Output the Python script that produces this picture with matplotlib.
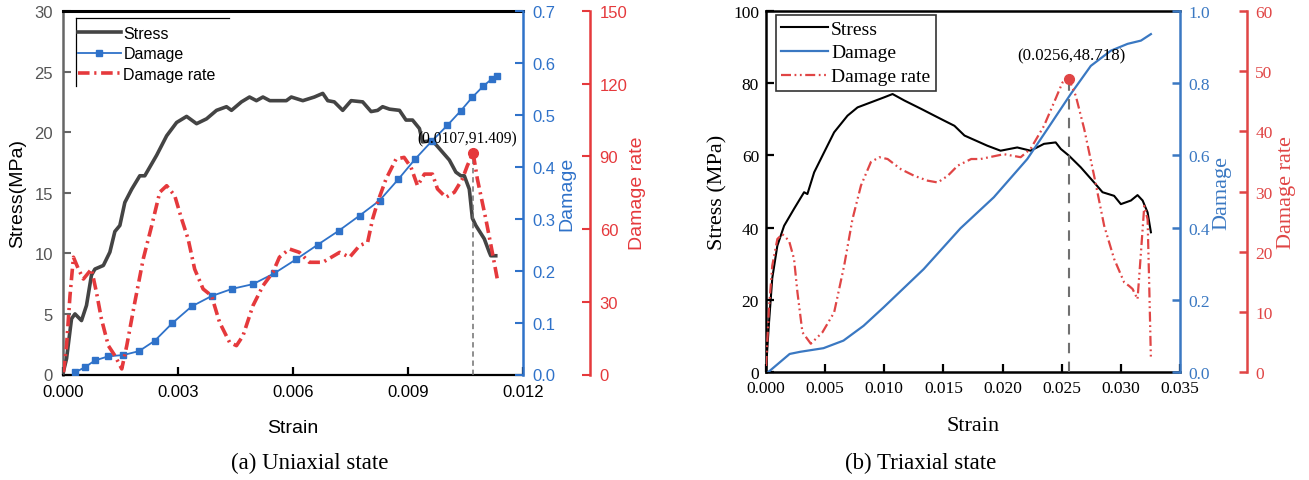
import matplotlib
matplotlib.use("Agg")
import matplotlib.pyplot as plt
from matplotlib.lines import Line2D

# ---------------- data: (a) uniaxial ----------------
ua_stress_strain = [0, 0.0001, 0.00023, 0.00032, 0.00049, 0.00062, 0.00075, 0.00084, 0.00106, 0.00123,
                    0.00136, 0.00149, 0.00162, 0.0018, 0.00201, 0.00214, 0.00245, 0.00271, 0.00297, 0.00323,
                    0.00349, 0.00375, 0.00401, 0.00427, 0.0044, 0.00466, 0.00487, 0.00505, 0.00522, 0.0054,
                    0.00583, 0.00596, 0.00626, 0.00656, 0.00678, 0.00691, 0.00708, 0.0073, 0.00752, 0.00782,
                    0.00804, 0.00821, 0.00834, 0.00852, 0.00878, 0.00895, 0.00912, 0.0093, 0.00938, 0.00964,
                    0.00986, 0.01008, 0.01025, 0.01038, 0.01047, 0.0106, 0.01068, 0.01077, 0.01099, 0.01112,
                    0.01116, 0.01129]
ua_stress = [0, 1.3, 4.6, 5.0, 4.45, 5.7, 8.2, 8.7, 9.0, 10.1,
             11.8, 12.3, 14.2, 15.3, 16.4, 16.4, 18.1, 19.7, 20.8, 21.3,
             20.7, 21.1, 21.8, 22.1, 21.8, 22.5, 22.9, 22.6, 22.9, 22.6,
             22.6, 22.9, 22.6, 22.9, 23.2, 22.6, 22.5, 21.8, 22.6, 22.5,
             21.7, 21.8, 22.1, 21.9, 21.8, 21.0, 21.0, 20.3, 19.2, 19.3,
             18.5, 17.7, 16.7, 16.4, 16.4, 15.3, 12.9, 12.3, 11.2, 10.1,
             9.8, 9.8]

ua_damage_strain = [0.00032, 0.00058, 0.00084, 0.00119, 0.00158, 0.00199, 0.0024, 0.00286, 0.00336, 0.00388,
                    0.00442, 0.00496, 0.00552, 0.00609, 0.00665, 0.0072, 0.00774, 0.00826, 0.00875, 0.00919,
                    0.00963, 0.01003, 0.01038, 0.01068, 0.01096, 0.0112, 0.01133]
ua_damage = [0.004, 0.014, 0.027, 0.035, 0.0375, 0.045, 0.065, 0.099, 0.131, 0.151,
             0.165, 0.174, 0.195, 0.222, 0.25, 0.277, 0.306, 0.335, 0.376, 0.415,
             0.45, 0.48, 0.508, 0.534, 0.555, 0.570, 0.575]

ua_rate_strain = [0.00002, 0.0001, 0.00019, 0.00028, 0.00041, 0.00054, 0.00075, 0.00088, 0.00101, 0.00119,
                  0.00136, 0.00154, 0.00167, 0.00188, 0.0021, 0.00232, 0.00253, 0.00271, 0.00292, 0.0031,
                  0.00327, 0.00344, 0.00366, 0.00388, 0.00409, 0.00435, 0.00453, 0.0047, 0.00496, 0.00522,
                  0.00548, 0.00565, 0.00591, 0.00617, 0.00643, 0.00678, 0.00722, 0.00748, 0.00774, 0.00795,
                  0.00808, 0.00821, 0.00843, 0.00869, 0.0089, 0.00908, 0.00925, 0.00943, 0.00964, 0.00977,
                  0.00999, 0.01021, 0.01042, 0.01055, 0.0107, 0.01081, 0.01103, 0.0112, 0.01133]
ua_rate = [0.9, 11.9, 32.5, 48.4, 43.5, 39.4, 43.5, 33.9, 22.9, 11.9,
           7.8, 2.3, 11.9, 29.8, 47.7, 61.4, 75.2, 77.9, 73.8, 64.2,
           55.9, 43.5, 35.3, 32.5, 21.5, 13.3, 11.9, 16.0, 28.4, 36.6,
           42.2, 48.4, 51.8, 50.4, 46.3, 46.3, 50.4, 48.4, 53.2, 54.6,
           64.2, 71.1, 80.7, 88.9, 89.6, 85.5, 77.9, 82.7, 82.7, 76.6,
           73.1, 75.2, 80.7, 86.2, 91.409, 80.7, 64.2, 50.4, 39.4]
ua_peak = (0.0107, 91.409)

# ---------------- data: (b) triaxial ----------------
tr_stress_strain = [0, 0.00025, 0.00053, 0.00096, 0.00153, 0.00237, 0.00322, 0.0035, 0.00407, 0.00492,
                    0.00576, 0.00689, 0.00774, 0.00887, 0.01, 0.0107, 0.0117, 0.01311, 0.01424, 0.01508,
                    0.01593, 0.01678, 0.0187, 0.01983, 0.02124, 0.02237, 0.0235, 0.02449, 0.02492, 0.02562,
                    0.02661, 0.02774, 0.02845, 0.02943, 0.03, 0.03085, 0.03141, 0.03184, 0.03226, 0.03254]
tr_stress = [0.8, 13.5, 26.0, 35.0, 40.5, 45.2, 49.8, 49.3, 55.3, 60.9,
             66.4, 71.0, 73.3, 74.7, 76.1, 77.0, 75.2, 72.9, 71.0, 69.6,
             68.2, 65.5, 62.7, 61.3, 62.2, 61.3, 63.2, 63.6, 61.8, 59.9,
             56.7, 52.5, 49.8, 48.8, 46.5, 47.5, 49.0, 47.5, 44.2, 38.7]

tr_damage_strain = [0.0002, 0.002, 0.0029, 0.00486, 0.00655, 0.00825, 0.00994, 0.01333, 0.01644, 0.01926,
                    0.02209, 0.02379, 0.02576, 0.02746, 0.02915, 0.03057, 0.0317, 0.03254]
tr_damage = [0, 0.05, 0.056, 0.066, 0.087, 0.128, 0.179, 0.285, 0.398, 0.484,
             0.59, 0.673, 0.77, 0.848, 0.89, 0.909, 0.918, 0.936]

tr_rate_strain = [0, 0.00025, 0.00053, 0.00096, 0.00138, 0.00195, 0.00237, 0.00266, 0.00308, 0.00379,
                  0.00477, 0.00576, 0.00661, 0.00731, 0.00803, 0.00887, 0.00958, 0.01028, 0.01141, 0.01254,
                  0.01367, 0.01452, 0.01536, 0.01621, 0.01735, 0.01814, 0.02011, 0.02153, 0.02237, 0.0235,
                  0.02435, 0.02506, 0.0256, 0.02619, 0.0269, 0.02774, 0.02859, 0.02943, 0.03028, 0.0307,
                  0.03099, 0.03141, 0.0317, 0.03198, 0.03226, 0.0324, 0.03254]
tr_rate = [1.0, 10.5, 17.7, 22.1, 22.9, 21.8, 18.8, 13.2, 6.6, 4.7,
           6.6, 9.9, 17.7, 25.4, 31.0, 34.9, 35.7, 35.4, 33.7, 32.6,
           31.8, 31.5, 32.6, 34.3, 35.4, 35.4, 36.2, 35.7, 37.1, 40.9,
           44.8, 48.1, 48.718, 45.9, 40.4, 32.6, 24.3, 18.8, 14.9, 14.3,
           13.8, 12.1, 19.9, 27.6, 25.4, 14.3, 2.2]
tr_peak = (0.0256, 48.718)

ua_xticks = [0.000, 0.003, 0.006, 0.009, 0.012]
tr_xticks = [0.000, 0.005, 0.010, 0.015, 0.020, 0.025, 0.030, 0.035]

W, H = 1309, 481
fig = plt.figure(figsize=(W / 100, H / 100), dpi=100)

BLUE_A = "#2f72c9"
RED_A = "#e5393c"
GREY_A = "#444444"
BLUE_B = "#3a78c2"
RED_B = "#e04545"

SANS = "Liberation Sans"
SERIF = "Liberation Serif"
OFFSET_PT = 67 * 72 / 100.0  # 67 px outward


def px_box(x0, x1, ytop, ybot):
    return [x0 / W, 1 - ybot / H, (x1 - x0) / W, (ybot - ytop) / H]


# ======================= (a) =======================
ax = fig.add_axes(px_box(62.7, 523, 12, 375.5))
ax2 = ax.twinx()
ax3 = ax.twinx()

ax.set_xlim(0, 0.012)
ax.set_ylim(0, 30)
ax2.set_ylim(0, 0.7)
ax3.set_ylim(0, 150)

ax.plot(ua_stress_strain, ua_stress, color=GREY_A, lw=2.6, zorder=3)
ax2.plot(ua_damage_strain, ua_damage, color=BLUE_A, lw=1.3, marker="s", ms=4.2, zorder=3)
ax3.plot(ua_rate_strain, ua_rate, color=RED_A, lw=2.6, dashes=(3.2, 1.3, 0.6, 1.3), zorder=3)
ax3.plot([ua_peak[0]], [ua_peak[1]], "o", color=RED_A, ms=7, zorder=4)
ax3.plot([ua_peak[0], ua_peak[0]], [0, ua_peak[1]], color="#707070", lw=1.1, dashes=(3.5, 2.5), zorder=2)
ax3.text(ua_peak[0] - 0.00145, 97.5, "(0.0107,91.409)", family=SERIF, fontsize=11.2,
         ha="left", va="center", color="black")

# spines a
for s in ["top", "bottom"]:
    ax.spines[s].set_color("black")
ax.spines["top"].set_linewidth(2.2)
ax.spines["bottom"].set_linewidth(1.6)
ax.spines["left"].set_color("#666666")
ax.spines["left"].set_linewidth(1.8)
ax.spines["right"].set_visible(False)
for a in (ax2, ax3):
    for s in ["top", "bottom", "left"]:
        a.spines[s].set_visible(False)
ax2.spines["right"].set_color(BLUE_A)
ax2.spines["right"].set_linewidth(1.8)
ax3.spines["right"].set_position(("outward", OFFSET_PT))
ax3.spines["right"].set_color(RED_A)
ax3.spines["right"].set_linewidth(1.8)

ax.set_xticks(ua_xticks)
ax.set_xticklabels([f"{v:.3f}" for v in ua_xticks])
ax.set_yticks([0, 5, 10, 15, 20, 25, 30])
ax2.set_yticks([0.0, 0.1, 0.2, 0.3, 0.4, 0.5, 0.6, 0.7])
ax2.set_yticklabels([f"{v:.1f}" for v in [0.0, 0.1, 0.2, 0.3, 0.4, 0.5, 0.6, 0.7]])
ax3.set_yticks([0, 30, 60, 90, 120, 150])

ax.tick_params(axis="x", direction="in", length=6, width=1.6, colors="black", labelsize=12,
               pad=7, top=False)
ax.tick_params(axis="y", direction="in", length=6, width=1.5, color="#666666",
               labelcolor="#555555", labelsize=12, pad=7, right=False)
ax2.tick_params(axis="y", direction="in", length=6, width=1.5, colors=BLUE_A, labelsize=12, pad=7)
ax3.tick_params(axis="y", direction="in", length=6, width=1.5, colors=RED_A, labelsize=12, pad=7)
for a in (ax, ax2, ax3):
    for lab in a.get_xticklabels() + a.get_yticklabels():
        lab.set_family(SANS)

ax.set_xlabel("Strain", family=SANS, fontsize=14, labelpad=14)
ax.set_ylabel("Stress(MPa)", family=SANS, fontsize=14, labelpad=6)
ax2.set_ylabel("Damage", family=SANS, fontsize=14, color=BLUE_A, labelpad=2)
ax3.set_ylabel("Damage rate", family=SANS, fontsize=14, color=RED_A, labelpad=1)

# legend a (partial frame: top and left lines)
h_a = [Line2D([], [], color=GREY_A, lw=2.6),
       Line2D([], [], color=BLUE_A, lw=1.3, marker="s", ms=4.2),
       Line2D([], [], color=RED_A, lw=2.6, dashes=(3.2, 1.3, 0.6, 1.3))]
leg_a = ax.legend(h_a, ["Stress", "Damage", "Damage rate"], loc="upper left",
                  bbox_to_anchor=(0.005, 0.995), frameon=False, handlelength=2.7,
                  handletextpad=0.15, labelspacing=0.35, borderpad=0.3,
                  prop={"family": SANS, "size": 11.5})
leg_a.set_zorder(10)
ax.add_line(Line2D([0.0289, 0.3613], [0.9807, 0.9807], transform=ax.transAxes,
                   color="black", lw=0.9, clip_on=False))
ax.add_line(Line2D([0.0289, 0.0289], [0.9807, 0.7937], transform=ax.transAxes,
                   color="black", lw=0.9, clip_on=False))

# ======================= (b) =======================
bx = fig.add_axes(px_box(766, 1180, 12, 373))
bx2 = bx.twinx()
bx3 = bx.twinx()

bx.set_xlim(0, 0.035)
bx.set_ylim(0, 100)
bx2.set_ylim(0, 1.0)
bx3.set_ylim(0, 60)

bx.plot(tr_stress_strain, tr_stress, color="black", lw=1.5, zorder=3)
bx2.plot(tr_damage_strain, tr_damage, color=BLUE_B, lw=1.6, zorder=3)
bx3.plot(tr_rate_strain, tr_rate, color=RED_B, lw=1.6,
         dashes=(4.5, 1.6, 0.8, 1.6, 0.8, 1.6), zorder=3)
bx3.plot([tr_peak[0]], [tr_peak[1]], "o", color=RED_B, ms=7, zorder=4)
bx3.plot([tr_peak[0], tr_peak[0]], [0, tr_peak[1]], color="#707070", lw=1.5,
         dashes=(5, 4), zorder=2)
bx3.text(0.02585, 52.6, "(0.0256,48.718)", family=SERIF, fontsize=12.2,
         ha="center", va="center", color="black")

for s in ["top", "bottom", "left"]:
    bx.spines[s].set_color("black")
    bx.spines[s].set_linewidth(1.8)
bx.spines["right"].set_visible(False)
for a in (bx2, bx3):
    for s in ["top", "bottom", "left"]:
        a.spines[s].set_visible(False)
bx2.spines["right"].set_color(BLUE_B)
bx2.spines["right"].set_linewidth(1.8)
bx3.spines["right"].set_position(("outward", OFFSET_PT))
bx3.spines["right"].set_color(RED_B)
bx3.spines["right"].set_linewidth(1.8)

bx.set_xticks(tr_xticks)
bx.set_xticklabels([f"{v:.3f}" for v in tr_xticks])
bx.set_yticks([0, 20, 40, 60, 80, 100])
bx2.set_yticks([0.0, 0.2, 0.4, 0.6, 0.8, 1.0])
bx2.set_yticklabels([f"{v:.1f}" for v in [0.0, 0.2, 0.4, 0.6, 0.8, 1.0]])
bx3.set_yticks([0, 10, 20, 30, 40, 50, 60])

bx.tick_params(axis="x", direction="in", length=6, width=1.6, colors="black", labelsize=12.5,
               pad=6, top=False)
bx.tick_params(axis="y", direction="in", length=6, width=1.6, colors="black", labelsize=12.5,
               pad=5, right=False)
bx2.tick_params(axis="y", direction="in", length=6, width=1.8, colors=BLUE_B, labelsize=12.5, pad=6)
bx3.tick_params(axis="y", direction="in", length=6, width=1.8, colors=RED_B, labelsize=12.5, pad=6)
for a in (bx, bx2, bx3):
    for lab in a.get_xticklabels() + a.get_yticklabels():
        lab.set_family(SERIF)

bx.set_xlabel("Strain", family=SERIF, fontsize=16, labelpad=14)
bx.set_ylabel("Stress (MPa)", family=SERIF, fontsize=16, labelpad=4)
bx2.set_ylabel("Damage", family=SERIF, fontsize=16, color=BLUE_B, labelpad=2)
bx3.set_ylabel("Damage rate", family=SERIF, fontsize=16, color=RED_B, labelpad=3)

h_b = [Line2D([], [], color="black", lw=1.5),
       Line2D([], [], color=BLUE_B, lw=1.6),
       Line2D([], [], color=RED_B, lw=1.6, dashes=(4.5, 1.6, 0.8, 1.6, 0.8, 1.6))]
leg_b = bx.legend(h_b, ["Stress", "Damage", "Damage rate"], loc="upper left",
                  bbox_to_anchor=(0.024, 0.99), frameon=True, fancybox=False,
                  handlelength=2.4, handletextpad=0.15, labelspacing=0.32, borderpad=0.28,
                  borderaxespad=0.0, prop={"family": SERIF, "size": 14})
leg_b.get_frame().set_edgecolor("black")
leg_b.get_frame().set_linewidth(1.2)
leg_b.set_zorder(10)

# captions
fig.text(310 / W, 1 - 463 / H, "(a) Uniaxial state", family=SERIF, fontsize=16.5,
         ha="center", va="center")
fig.text(921 / W, 1 - 463 / H, "(b) Triaxial state", family=SERIF, fontsize=16.5,
         ha="center", va="center")

fig.savefig("out.png", dpi=100)
